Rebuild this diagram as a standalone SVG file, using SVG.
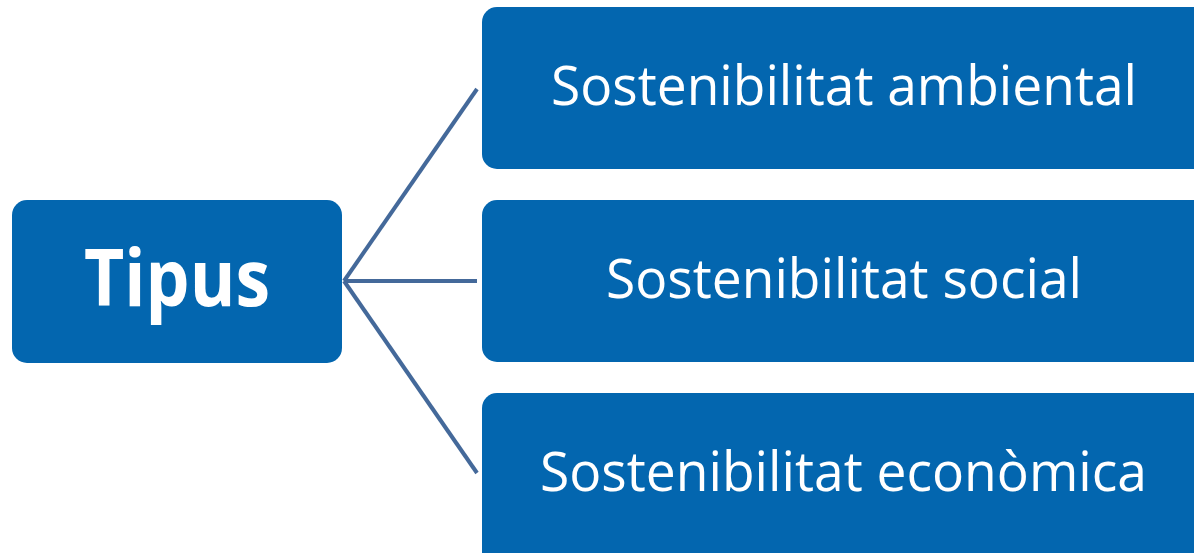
<svg xmlns="http://www.w3.org/2000/svg" width="1194" height="553" viewBox="0 0 1194 553">
<style>
.box{fill:#0366AF;}
.lbl{font-family:"Open Sans","Noto Sans",sans-serif;fill:#FFFFFF;text-anchor:middle;}
.sub{font-size:54px;}
.main{font-size:78px;font-weight:bold;}
.conn{stroke:#44699A;stroke-width:4;fill:none;stroke-linecap:butt;}
</style>
<rect width="1194" height="553" fill="#FFFFFF"/>
<g id="connectors">
<line class="conn" x1="344" y1="281" x2="477" y2="89"/>
<line class="conn" x1="344" y1="281" x2="477" y2="281"/>
<line class="conn" x1="344" y1="281" x2="477" y2="473"/>
</g>
<g id="node-tipus">
<rect class="box" x="12" y="200" width="330" height="163" rx="15"/>
<text class="lbl main" x="177" y="306" textLength="186" lengthAdjust="spacingAndGlyphs">Tipus</text>
</g>
<g id="node-ambiental">
<rect class="box" x="482" y="7" width="730" height="162" rx="15"/>
<text class="lbl sub" x="844" y="105" textLength="586" lengthAdjust="spacingAndGlyphs">Sostenibilitat ambiental</text>
</g>
<g id="node-social">
<rect class="box" x="482" y="200" width="730" height="162" rx="15"/>
<text class="lbl sub" x="844" y="298" textLength="476" lengthAdjust="spacingAndGlyphs">Sostenibilitat social</text>
</g>
<g id="node-economica">
<rect class="box" x="482" y="393" width="730" height="175" rx="15"/>
<text class="lbl sub" x="843.5" y="491" textLength="607" lengthAdjust="spacingAndGlyphs">Sostenibilitat econòmica</text>
</g>
</svg>
